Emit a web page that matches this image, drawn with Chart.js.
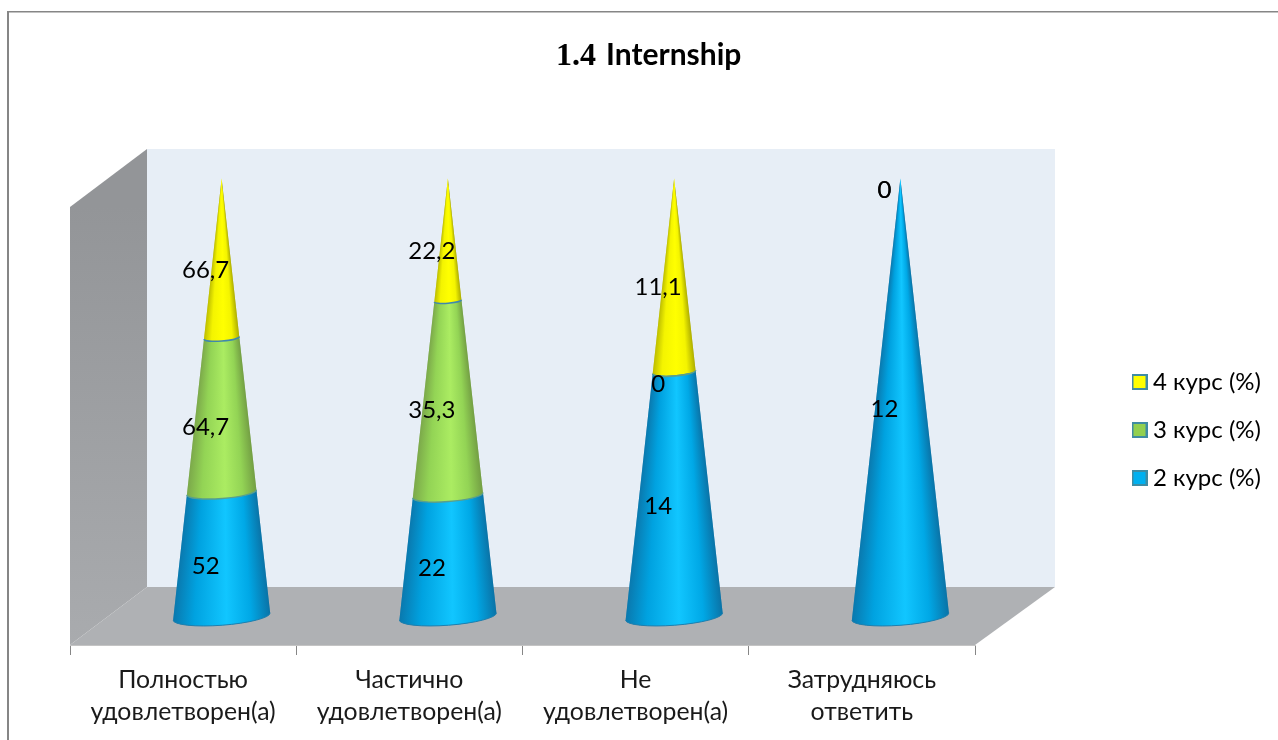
<!DOCTYPE html>
<html><head><meta charset="utf-8">
<style>html,body{margin:0;padding:0;background:#fff}canvas{display:block}</style>
<script src="https://cdn.jsdelivr.net/npm/chart.js@4"></script>
</head><body><canvas id="c" width="1278" height="740"></canvas>
<script>
const categories = [["Полностью","удовлетворен(а)"],["Частично","удовлетворен(а)"],["Не","удовлетворен(а)"],["Затрудняюсь","ответить"]];
const course2 = [52, 22, 14, 12];
const course3 = [64.7, 35.3, 0, 0];
const course4 = [66.7, 22.2, 11.1, 0];
const seriesNames = ["2 курс (%)", "3 курс (%)", "4 курс (%)"];

const FONT = 'Lato, "Noto Sans", sans-serif';
const DX = 38.5, DY = -28.5, WALL_DX = 77, WALL_DY = -58;
const K = 0.18, TILT = 0.075;
const shades = {
  '#00b0f0': ['#0a78ad','#00a2e0','#11c6ff','#00a8e6','#0a74a8'],
  '#92d050': ['#7ba84a','#93d455','#abec62','#93d455','#74a044'],
  '#ffff00': ['#bdbd00','#f4f400','#ffff00','#f4f400','#b0b000']
};
const total = categories.map((_, i) => course2[i] + course3[i] + course4[i]);
const pct = arr => arr.map((v, i) => v / total[i] * 100);
const raw = [course2, course3, course4];
let current = null;

function swatch(color) {
  const s = document.createElement('canvas');
  s.width = 16; s.height = 16;
  const x = s.getContext('2d');
  x.fillStyle = color; x.fillRect(1, 1, 14, 14);
  x.strokeStyle = '#3f8ca3'; x.lineWidth = 2; x.strokeRect(1, 1, 14, 14);
  return s;
}

Chart.BarElement.prototype.draw = function (ctx) {
  const ys = current.scales.y;
  const cx = this.x + DX, yT = this.y + DY, yB = this.base + DY;
  const tip = ys.getPixelForValue(100) + DY, full = ys.getPixelForValue(0) + DY;
  const R = this.width / 2;
  const rad = y => R * Math.max(0, Math.min(y, full) - tip) / (full - tip);
  const rb = rad(yB), rt = rad(yT);
  const o = this.options;
  ctx.save();
  if (yB - yT > 0.5) {
    ctx.save();
    ctx.beginPath();
    ctx.ellipse(cx, yB, rb, rb * K, -TILT, 0, Math.PI, false);
    ctx.ellipse(cx, yT, Math.max(rt, 0.01), Math.max(rt * K, 0.01), -TILT, Math.PI, 0, true);
    ctx.closePath();
    ctx.clip();
    const st = shades[o.backgroundColor];
    for (let y = Math.floor(yT - rt * K - 4); y < yB + rb * K + 6; y++) {
      const r = Math.max(rad(y), 0.6);
      const g = ctx.createLinearGradient(cx - r, 0, cx + r, 0);
      g.addColorStop(0, st[0]); g.addColorStop(0.22, st[1]); g.addColorStop(0.55, st[2]);
      g.addColorStop(0.8, st[3]); g.addColorStop(1, st[4]);
      ctx.fillStyle = g;
      ctx.fillRect(cx - r - 8, y, 2 * r + 16, 1.5);
    }
    ctx.restore();
  }
  if (rt > 1 && o.borderWidth > 0) {
    ctx.strokeStyle = o.borderColor; ctx.lineWidth = o.borderWidth;
    ctx.beginPath();
    ctx.ellipse(cx, yT, rt, rt * K, -TILT, Math.PI, 0, true);
    ctx.stroke();
  }
  if (this.base >= ys.getPixelForValue(0) - 0.5 && yB - yT > 0.5) {
    ctx.strokeStyle = '#1f7fae'; ctx.lineWidth = 1;
    ctx.beginPath();
    ctx.ellipse(cx, yB, rb, rb * K, -TILT, 0, Math.PI, false);
    ctx.stroke();
  }
  ctx.restore();
};

const scenePlugin = {
  id: 'scene',
  afterLayout(chart) {
    const l = chart.legend;
    l.left = 1114; l.right = 1414; l.top = 346; l.bottom = 700;
    l.adjustHitBoxes();
  },
  beforeDatasetsDraw(chart) {
    current = chart;
    const { ctx, chartArea: a } = chart;
    ctx.save();
    ctx.fillStyle = '#e7eef6';
    ctx.fillRect(a.left + WALL_DX, a.top + WALL_DY, a.right - a.left + 3, a.bottom - a.top);
    let g = ctx.createLinearGradient(0, a.top, 0, a.bottom);
    g.addColorStop(0, '#939598'); g.addColorStop(1, '#a9abae');
    ctx.fillStyle = g;
    ctx.beginPath();
    ctx.moveTo(a.left, a.top); ctx.lineTo(a.left + WALL_DX, a.top + WALL_DY);
    ctx.lineTo(a.left + WALL_DX, a.bottom + WALL_DY); ctx.lineTo(a.left, a.bottom);
    ctx.closePath(); ctx.fill();
    ctx.fillStyle = '#afb1b4';
    ctx.beginPath();
    ctx.moveTo(a.left, a.bottom); ctx.lineTo(a.left + WALL_DX, a.bottom + WALL_DY);
    ctx.lineTo(a.right + WALL_DX + 3, a.bottom + WALL_DY); ctx.lineTo(a.right, a.bottom);
    ctx.closePath(); ctx.fill();
    ctx.restore();
  },
  beforeDraw(chart) {
    const ctx = chart.ctx;
    ctx.save();
    ctx.fillStyle = '#fff'; ctx.fillRect(0, 0, chart.width, chart.height);
    ctx.fillStyle = '#868686';
    ctx.fillRect(7, 11, 2, chart.height - 11);
    ctx.fillRect(7, 11, chart.width - 7, 1.5);
    ctx.fillStyle = '#000'; ctx.textBaseline = 'alphabetic'; ctx.textAlign = 'left';
    ctx.font = 'bold 32px "Liberation Serif", serif';
    ctx.fillText('1.4', 556, 65);
    ctx.font = 'bold 30px ' + FONT;
    ctx.fillText('Internship', 606, 65);
    ctx.restore();
  },
  afterDatasetsDraw(chart) {
    const ctx = chart.ctx;
    ctx.save();
    ctx.fillStyle = '#000'; ctx.font = '24px ' + FONT;
    ctx.textAlign = 'center'; ctx.textBaseline = 'middle';
    chart.data.datasets.forEach((ds, d) => {
      chart.getDatasetMeta(d).data.forEach((el, i) => {
        const v = raw[d][i];
        ctx.fillText(String(v).replace('.', ','), el.x + DX - 16, (el.y + el.base) / 2 + DY + 12);
      });
    });
    ctx.restore();
  }
};

new Chart(document.getElementById('c'), {
  type: 'bar',
  data: {
    labels: categories,
    datasets: [
      { label: seriesNames[0], data: pct(course2), backgroundColor: '#00b0f0', borderColor: '#5a9f8c', borderWidth: 1.5, clip: false },
      { label: seriesNames[1], data: pct(course3), backgroundColor: '#92d050', borderColor: '#3f88ad', borderWidth: 1.5, clip: false },
      { label: seriesNames[2], data: pct(course4), backgroundColor: '#ffff00', borderColor: '#ffff00', borderWidth: 0, clip: false }
    ]
  },
  options: {
    responsive: false, animation: false,
    categoryPercentage: 0.43, barPercentage: 1,
    layout: { padding: { left: 70, top: 207, right: 303, bottom: 0 } },
    scales: {
      x: {
        stacked: true,
        afterFit(s) { s.height = 95; },
        grid: { drawOnChartArea: false, drawTicks: true, tickLength: 10, color: '#868686' },
        border: { color: '#c4c4c4', width: 1 },
        ticks: { color: '#1a1a1a', maxRotation: 0, autoSkip: false, padding: 9, font: { family: FONT, size: 24.8, lineHeight: 1.29 } }
      },
      y: { stacked: true, display: false, min: 0, max: 100 }
    },
    plugins: {
      tooltip: { enabled: false },
      title: { display: false },
      legend: {
        position: 'chartArea', align: 'start',
        labels: {
          usePointStyle: true, pointStyleWidth: 3, boxHeight: 15, padding: 24, color: '#1a1a1a',
          font: { family: FONT, size: 24 },
          generateLabels(chart) {
            return chart.data.datasets.map((ds, i) => ({
              text: ds.label, pointStyle: swatch(ds.backgroundColor), fillStyle: ds.backgroundColor, strokeStyle: '#3f8ca3', lineWidth: 0, datasetIndex: i, hidden: false
            })).reverse();
          }
        }
      }
    }
  },
  plugins: [scenePlugin]
});
</script></body></html>
